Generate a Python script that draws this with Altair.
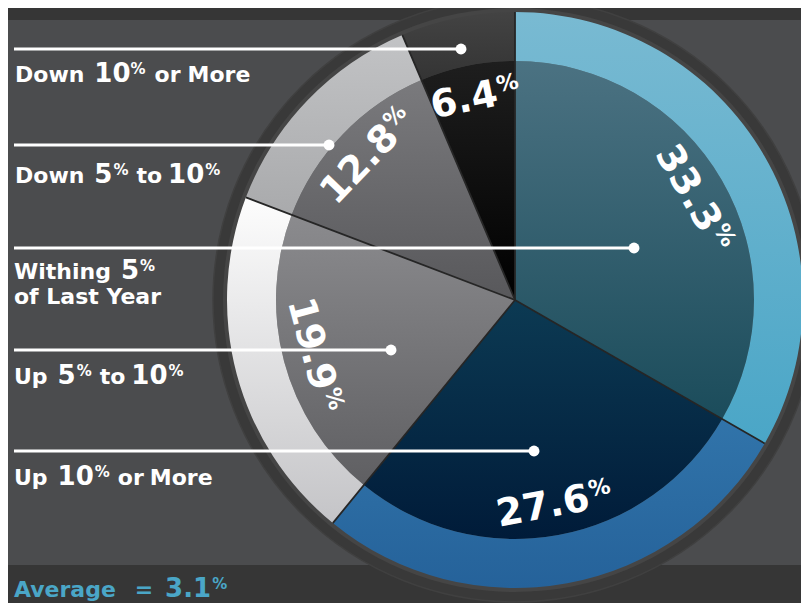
import math
import altair as alt
import pandas as pd

# ---------------- data ----------------
categories = ["Withing 5% of Last Year", "Up 10% or More", "Up 5% to 10%",
              "Down 5% to 10%", "Down 10% or More"]
values = [33.3, 27.6, 19.9, 12.8, 6.4]
pct_text = ["33.3", "27.6", "19.9", "12.8", "6.4"]
average_value = "3.1"

# colours (inner top, inner bottom, ring top, ring bottom)
inner_top = ["#4b7282", "#0c3a53", "#8b8b8e", "#7a7a7d", "#1e1e1e"]
inner_bot = ["#1b4c5b", "#001b39", "#5f5f62", "#58585b", "#000000"]
ring_top = ["#79bad2", "#3174aa", "#fdfdfd", "#c2c3c5", "#434343"]
ring_bot = ["#4aa6c7", "#25629a", "#c4c4c7", "#a9aaac", "#343434"]

# ---------------- layout ----------------
W, H = 793, 595
OFF = 8
CX, CY = 515 - OFF, 300 - OFF
R_IN, R_OUT, R_BORDER = 239, 288, 302
R_LABEL = 207
BG = "#4b4c4e"
BAND = "#363636"
TEAL = "#4aa6c7"
FONT = "DejaVu Sans"

starts, ends, acc = [], [], 0.0
for v in values:
    starts.append(acc)
    acc += v
    ends.append(acc)
df = pd.DataFrame({
    "cat": categories, "value": values, "start": starts, "end": ends,
    "mid": [(s + e) / 2 for s, e in zip(starts, ends)], "pct": pct_text,
})

theta_scale = alt.Scale(domain=[0, 100], range=[0, 2 * math.pi])
center = dict(x=alt.value(CX), y=alt.value(CY))
one = pd.DataFrame({"a": [0]})
full = pd.DataFrame({"start": [0.0], "end": [100.0]})

layers = []
# background bands
layers.append(alt.Chart(one).mark_rect(color=BAND).encode(
    x=alt.value(0), x2=alt.value(W), y=alt.value(0), y2=alt.value(20 - OFF)))
layers.append(alt.Chart(one).mark_rect(color=BAND).encode(
    x=alt.value(0), x2=alt.value(W), y=alt.value(565 - OFF), y2=alt.value(H)))


def full_ring(outer, inner, fill, **kw):
    return alt.Chart(full).mark_arc(outerRadius=outer, innerRadius=inner, fill=fill, **kw).encode(
        theta=alt.Theta("start:Q", stack=None, scale=theta_scale),
        theta2="end:Q", **center)


layers.append(full_ring(R_BORDER, 0, "#393939", stroke="#404040", strokeWidth=1.5))
layers.append(full_ring(R_OUT + 4, R_OUT - 2, "#454545"))


def grad(c0, c1):
    return alt.LinearGradient(gradient="linear", x1=0, y1=0, x2=0, y2=1,
                              stops=[alt.GradientStop(color=c0, offset=0),
                                     alt.GradientStop(color=c1, offset=1)])


for i, cat in enumerate(categories):
    base = alt.Chart(df).transform_filter(alt.FieldEqualPredicate(field="cat", equal=cat))
    enc = dict(theta=alt.Theta("start:Q", stack=None, scale=theta_scale), theta2="end:Q", **center)
    layers.append(base.mark_arc(outerRadius=R_IN, innerRadius=0,
                                fill=grad(inner_top[i], inner_bot[i])).encode(**enc))
    layers.append(base.mark_arc(outerRadius=R_OUT, innerRadius=R_IN,
                                fill=grad(ring_top[i], ring_bot[i])).encode(**enc))

# slice separators (zero-width arcs draw radial lines)
layers.append(alt.Chart(df).mark_arc(outerRadius=R_OUT, innerRadius=0, fillOpacity=0,
                                     stroke="#262626", strokeWidth=1.8).encode(
    theta=alt.Theta("start:Q", stack=None, scale=theta_scale), theta2="start:Q", **center))

# approximate DejaVu Sans Bold advance widths (em)
ADV = {"0": .696, "1": .696, "2": .696, "3": .696, "4": .696, "5": .696, "6": .696,
       "7": .696, "8": .696, "9": .696, ".": .38, "%": 1.002, " ": .348,
       "D": .830, "o": .687, "w": .924, "n": .712, "r": .493, "M": .995, "e": .678,
       "t": .478, "W": 1.103, "i": .343, "h": .712, "g": .716, "f": .435, "L": .637,
       "a": .675, "s": .595, "Y": .724, "U": .812, "p": .716, "A": .774, "v": .652,
       "=": .838}


def tw(text, fs):
    return sum(ADV.get(c, .65) for c in text) * fs


# percentage labels inside the slices
NUM_FS, PCT_FS = 38, 22
for i, cat in enumerate(categories):
    wn = tw(pct_text[i], NUM_FS)
    wp = 0.9 * PCT_FS
    d = (wn - wp) / 2
    base = alt.Chart(df).transform_filter(
        alt.FieldEqualPredicate(field="cat", equal=cat)).transform_calculate(
        a="datum.mid * 3.6",
        rot="(datum.a > 90 && datum.a < 270) ? (datum.a + 180) % 360 : datum.a")
    enc = dict(theta=alt.Theta("mid:Q", stack=None, scale=theta_scale),
               angle=alt.Angle("rot:Q", scale=None), **center)
    layers.append(base.mark_text(radius=R_LABEL, font=FONT, fontWeight="bold", fontSize=NUM_FS,
                                 color="white", align="right", baseline="middle", dx=d, dy=2).encode(
        text="pct:N", **enc))
    layers.append(base.mark_text(radius=R_LABEL, font=FONT, fontWeight="bold", fontSize=PCT_FS,
                                 color="white", align="left", baseline="middle", dx=d + 1, dy=-7).encode(
        text=alt.value("%"), **enc))

# leader lines with dots
lead_y = [248, 451, 350, 145, 49]
lead_x = [634, 534, 391, 329, 461]
leaders = pd.DataFrame({"cat": categories,
                        "y": [v - OFF for v in lead_y],
                        "x1": [v - OFF for v in lead_x],
                        "x0": [14 - OFF] * 5})
layers.append(alt.Chart(leaders).mark_rule(color="white", strokeWidth=3).encode(
    x=alt.X("x0:Q", scale=None), x2="x1:Q", y=alt.Y("y:Q", scale=None)))
layers.append(alt.Chart(leaders).mark_circle(color="white", opacity=1, size=120).encode(
    x=alt.X("x1:Q", scale=None), y=alt.Y("y:Q", scale=None)))

# category label text (mixed sizes), laid out left to right
S, B, P = 22, 26, 15
RAISE = 8


def flow(pieces, x0, base_y):
    """pieces: (text, size, gap_before, raised)"""
    out, x = [], x0
    for text, fs, gap, raised in pieces:
        x += gap
        out.append((text, x, base_y - (RAISE if raised else 0), fs))
        x += tw(text, fs)
    return out


segs = []
segs += flow([("Down", S, 0, 0), ("10", B, 10, 0), ("%", P, 0, 1), ("or", S, 9, 0), ("More", S, 7, 0)], 15, 82)
segs += flow([("Down", S, 0, 0), ("5", B, 10, 0), ("%", P, 1, 1), ("to", S, 8, 0),
              ("10", B, 6, 0), ("%", P, 1, 1)], 15, 183)
segs += flow([("Withing", S, 0, 0), ("5", B, 10, 0), ("%", P, 1, 1)], 14, 279)
segs += flow([("of Last Year", S, 0, 0)], 14, 304)
segs += flow([("Up", S, 0, 0), ("5", B, 10, 0), ("%", P, 1, 1), ("to", S, 8, 0),
              ("10", B, 6, 0), ("%", P, 1, 1)], 14, 384)
segs += flow([("Up", S, 0, 0), ("10", B, 10, 0), ("%", P, 1, 1), ("or", S, 8, 0), ("More", S, 6, 0)], 14, 485)

seg_df = pd.DataFrame({"t": [s[0] for s in segs], "x": [s[1] - OFF for s in segs],
                       "y": [s[2] - OFF for s in segs], "fs": [s[3] for s in segs]})
layers.append(alt.Chart(seg_df).mark_text(font=FONT, fontWeight="bold", color="white",
                                          align="left", baseline="alphabetic").encode(
    x=alt.X("x:Q", scale=None), y=alt.Y("y:Q", scale=None),
    size=alt.Size("fs:Q", scale=None), text="t:N"))

avg = flow([("Average", 22, 0, 0), ("=", 22, 18, 0), (average_value, 26, 12, 0), ("%", 15, 1, 1)], 14, 597)
avg_df = pd.DataFrame({"t": [s[0] for s in avg], "x": [s[1] - OFF for s in avg],
                       "y": [s[2] - OFF for s in avg], "fs": [s[3] for s in avg]})
layers.append(alt.Chart(avg_df).mark_text(font=FONT, fontWeight="bold", color=TEAL,
                                          align="left", baseline="alphabetic").encode(
    x=alt.X("x:Q", scale=None), y=alt.Y("y:Q", scale=None),
    size=alt.Size("fs:Q", scale=None), text="t:N"))

chart = alt.layer(*layers).properties(
    width=W, height=H, padding=0, autosize=alt.AutoSizeParams(type="none"),
    background=BG,
).configure_view(stroke=None)

chart.save("out.html", embed_options={"renderer": "svg", "actions": False})
